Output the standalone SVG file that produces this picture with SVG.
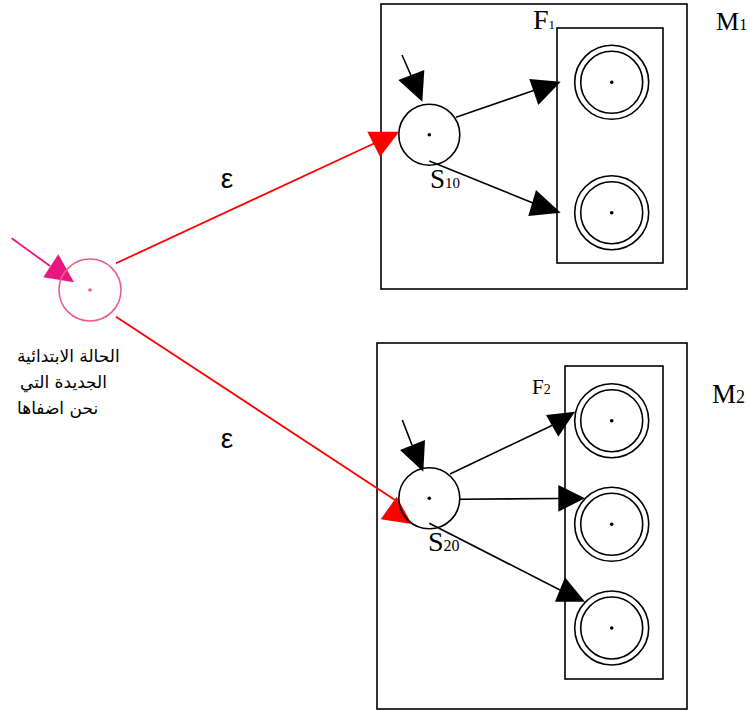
<svg xmlns="http://www.w3.org/2000/svg" width="750" height="711" viewBox="0 0 750 711">
<style>
.box{fill:none;stroke:#000;stroke-width:1.6}
.dot{fill:#000}
.ln{stroke:#000;stroke-width:1.6;fill:none}
.hd{fill:#000;stroke:none}
.red{stroke:#ff0000;stroke-width:1.8;fill:none}
.redh{fill:#ff0000}
.serif{font-family:"Liberation Serif","Times New Roman",serif;fill:#000}
.eps{font-family:"Liberation Sans",Arial,sans-serif;font-size:28px;fill:#000}
.ar{font-family:"DejaVu Sans","Noto Sans",sans-serif;font-size:17px;fill:#000}
</style>
<rect width="750" height="711" fill="#fff"/>

<g id="M1">
<rect class="box" x="381" y="4" width="306" height="285"/>
<text class="serif" x="716" y="30" font-size="26">M<tspan font-size="16">1</tspan></text>
</g>
<g id="F1">
<rect class="box" x="557" y="28" width="106" height="235"/>
<text class="serif" x="533" y="29" font-size="28">F<tspan font-size="13">1</tspan></text>
</g>
<g id="M2">
<rect class="box" x="377" y="343" width="310" height="366"/>
<text class="serif" x="712" y="403" font-size="27">M<tspan font-size="18">2</tspan></text>
</g>
<g id="F2">
<rect class="box" x="565" y="366" width="98" height="313"/>
<text class="serif" x="532" y="394" font-size="21">F<tspan font-size="14">2</tspan></text>
</g>

<g id="connectors">
<line class="ln" x1="402" y1="55" x2="413" y2="80"/>
<polygon class="hd" points="398.3,80 424.3,70 422.3,101.7"/>
<line class="ln" x1="456" y1="117.3" x2="535" y2="90"/>
<polygon class="hd" points="529.3,79 538.3,105 560.7,81.7"/>
<line class="ln" x1="429.3" y1="161" x2="533" y2="203"/>
<polygon class="hd" points="536,190 528.3,216 560.7,212.7"/>

<line class="ln" x1="402.3" y1="420" x2="412" y2="445"/>
<polygon class="hd" points="400,450 425,440 423.3,471.7"/>
<line class="ln" x1="450" y1="474" x2="553" y2="425"/>
<polygon class="hd" points="546,415 558.3,436.7 575,411.7"/>
<line class="ln" x1="460" y1="499.3" x2="560" y2="498.5"/>
<polygon class="hd" points="558.3,485 558.3,511.7 585,498.3"/>
<line class="ln" x1="429.3" y1="523.3" x2="560" y2="590"/>
<polygon class="hd" points="565,577.3 555,601.7 585,601.7"/>

<line class="red" x1="116" y1="263.3" x2="375" y2="143"/>
<polygon class="redh" points="367.3,131.7 399.3,131.7 380,156.7"/>
<line class="red" x1="116" y1="316.7" x2="395" y2="500"/>
<polygon class="redh" points="396.7,496.7 380.7,519.3 411.7,524"/>

<line x1="11.7" y1="238.3" x2="50" y2="266" stroke="#e8177f" stroke-width="1.8"/>
<polygon fill="#e8177f" points="43.3,277.3 58.3,254.3 74,282.3"/>
</g>

<g id="S0">
<circle cx="90" cy="290" r="31" fill="none" stroke="#ee5a8a" stroke-width="1.6"/>
<circle cx="90" cy="290" r="1.8" fill="#ee5a8a"/>
<text class="ar" x="17" y="362">الحالة الابتدائية</text>
<text class="ar" x="20" y="388">الجديدة التي</text>
<text class="ar" x="17" y="414">نحن اضفاها</text>
</g>

<g id="S10">
<circle class="box" cx="429.3" cy="134.7" r="30.5"/>
<circle class="dot" cx="429.3" cy="134.7" r="1.8"/>
<text class="serif" x="430" y="187.5" font-size="27">S<tspan font-size="15">10</tspan></text>
</g>
<g id="F1a">
<circle class="box" cx="611.7" cy="82.3" r="37"/>
<circle class="box" cx="611.7" cy="82.3" r="31"/>
<circle class="dot" cx="611.7" cy="82.3" r="1.8"/>
</g>
<g id="F1b">
<circle class="box" cx="611.7" cy="212.7" r="37"/>
<circle class="box" cx="611.7" cy="212.7" r="31"/>
<circle class="dot" cx="611.7" cy="212.7" r="1.8"/>
</g>

<g id="S20">
<circle class="box" cx="429.3" cy="498.3" r="30.5"/>
<circle class="dot" cx="429.3" cy="498.3" r="1.8"/>
<text class="serif" x="428" y="551" font-size="28">S<tspan font-size="16">20</tspan></text>
</g>
<g id="F2a">
<circle class="box" cx="611.7" cy="420.7" r="37"/>
<circle class="box" cx="611.7" cy="420.7" r="31"/>
<circle class="dot" cx="611.7" cy="420.7" r="1.8"/>
</g>
<g id="F2b">
<circle class="box" cx="611.7" cy="524.3" r="37"/>
<circle class="box" cx="611.7" cy="524.3" r="31"/>
<circle class="dot" cx="611.7" cy="524.3" r="1.8"/>
</g>
<g id="F2c">
<circle class="box" cx="611.7" cy="628" r="37"/>
<circle class="box" cx="611.7" cy="628" r="31"/>
<circle class="dot" cx="611.7" cy="628" r="1.8"/>
</g>

<g id="labels">
<text class="eps" x="227" y="188" text-anchor="middle">ε</text>
<text class="eps" x="227" y="448" text-anchor="middle">ε</text>
</g>
</svg>
